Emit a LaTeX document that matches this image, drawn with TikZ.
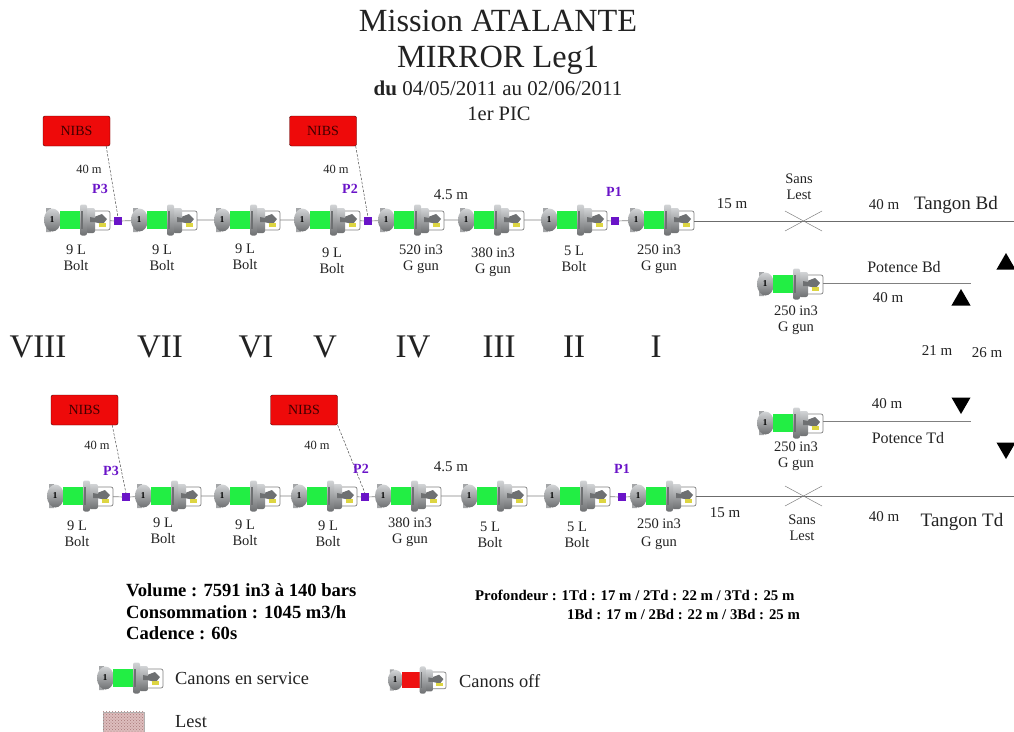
\documentclass[tikz,border=0pt]{standalone}
\usepackage{fontspec}
\setmainfont{Liberation Serif}
\usetikzlibrary{calc,shapes.geometric,patterns}
\definecolor{gungreen}{HTML}{22EE44}
\definecolor{gunred}{HTML}{EE1111}
\definecolor{gungray}{HTML}{A4A6A8}
\definecolor{gunlight}{HTML}{D2D4D6}
\definecolor{gundark}{HTML}{6E7072}
\definecolor{nibsred}{HTML}{EE0A0A}
\definecolor{pviolet}{HTML}{6A14C8}
\definecolor{lestpink}{HTML}{DDBDBD}
\definecolor{lestdots}{HTML}{A87878}
\definecolor{txt}{HTML}{222222}
\newcommand{\fs}[1]{\fontsize{#1}{#1}\selectfont}
\tikzset{
  gunlab/.style={align=center,font=\fs{14.5},text=txt,inner sep=0pt},
  lab/.style={font=\fs{15},text=txt,inner sep=0pt},
  tlab/.style={font=\fs{19},text=txt,inner sep=0pt},
  roman/.style={font=\fs{33},text=txt,inner sep=0pt},
  nibs/.style={draw=black!70!red,fill=nibsred,rounded corners=2pt,minimum width=67pt,minimum height=30pt,inner sep=0pt,font=\fs{14},text=black!75!red},
  pbox/.style={fill=pviolet,minimum size=7.5pt,inner sep=0pt,outer sep=0pt},
  plab/.style={font=\bfseries\fs{14},text=pviolet,inner sep=0pt},
  hose/.style={draw=gray!85!black,line width=0.9pt},
  link/.style={draw=gray,line width=0.7pt},
  lien/.style={draw=gray!60!black,line width=0.5pt,dashed,dash pattern=on 2.5pt off 1.5pt},
  cross/.style={draw=gray,line width=0.5pt},
  tri/.style={fill=black,inner sep=0pt},
  boldtxt/.style={font=\bfseries\fs{18.6},text=black,inner sep=0pt,anchor=west}
}
% [scale] name, x left, y centre, colour
\newcommand{\gun}[5][1]{%
  \node[minimum width={66pt*#1},minimum height={31pt*#1},inner sep=0pt,outer sep=0pt] (#2) at ({#3+33*#1},#4) {};
  \begin{scope}[shift={(#3,#4)},scale=#1]
    \fill[gungray] (2,-12) rectangle (7,-8) (2,12) rectangle (7,8);
    \shade[top color=gunlight,bottom color=gundark] (8.5,0) ellipse [x radius=8.5,y radius=11.5];
    \fill[#5] (16,-9) rectangle (37,9);
    \filldraw[draw=gray,fill=white,line width=0.7pt,rounded corners=2pt] (47,-9) rectangle (66,10);
    \fill[gundark] (50,-3) -- (58,-6) -- (63,-1) -- (59,4) -- (50,2) -- cycle;
    \fill[yellow!70!gray] (55,3) rectangle (62,7);
    \shade[top color=gunlight,bottom color=gundark,rounded corners=2pt] (42,-12) rectangle (51,13);
    \shade[top color=gunlight,bottom color=gundark,rounded corners=2pt] (36,-15.5) rectangle (43,15.5);
    \fill[gundark] (37,-9) rectangle (39,9);
    \fill[gundark] (46,-3) -- (56,-1) -- (56,2) -- (46,2) -- cycle;
    \node[inner sep=0pt,font=\bfseries\fs{9},text=black] at (8,0) {1};
  \end{scope}}
\begin{document}
\begin{tikzpicture}[x=1pt,y=-1pt]
\useasboundingbox (0,0) rectangle (1014,731);
% Title
\node[font=\fs{32.3},text=txt,inner sep=0pt] (t1) at (498,21) {Mission ATALANTE};
\node[font=\fs{32.3},text=txt,inner sep=0pt] (t2) at (498,60) {MIRROR Leg1};
\node[font=\fs{21},text=txt,inner sep=0pt] (t3) at (498,88) {\textbf{du} 04/05/2011 au 02/06/2011};
\node[font=\fs{20.5},text=txt,inner sep=0pt] (t4) at (499,114) {1er PIC};
% Top row
\gun{a8}{44}{220}{gungreen}
\gun{a7}{131}{220}{gungreen}
\gun{a6}{214}{220}{gungreen}
\gun{a5}{294}{220}{gungreen}
\gun{a4}{378}{220}{gungreen}
\gun{a3}{458}{220}{gungreen}
\gun{a2}{541}{220}{gungreen}
\gun{a1}{628}{220}{gungreen}
\node[pbox] (pa3) at (118,221) {};
\node[pbox] (pa2) at (368,221) {};
\node[pbox] (pa1) at (615,221) {};
\coordinate (tb) at (1014,221);
\draw[link] (a8) -- (pa3) (pa3) -- (a7) (a7) -- (a6) (a6) -- (a5) (a5) -- (pa2) (pa2) -- (a4) (a4) -- (a3) (a3) -- (a2) (a2) -- (pa1) (pa1) -- (a1);
\draw[hose] (a1.east |- tb) -- (tb);
\node[nibs] (na3) at (76.5,131) {NIBS};
\node[nibs] (na2) at (323,131) {NIBS};
\draw[lien] ([xshift=-4pt]na3.south east) -- (pa3.north);
\draw[lien] ([xshift=-1pt]na2.south east) -- (pa2.north);
\node[lab,font=\fs{12.5}] (l1) at (89,169) {40 m};
\node[lab,font=\fs{12.5}] (l2) at (336,169) {40 m};
\node[plab] (lp3) at (100,189) {P3};
\node[plab] (lp2) at (350,189) {P2};
\node[plab] (lp1) at (614,192) {P1};
\node[gunlab] (a8t) at (76,258) {9 L\\[1pt]Bolt};
\node[gunlab] (a7t) at (162,258) {9 L\\[1pt]Bolt};
\node[gunlab] (a6t) at (245,257) {9 L\\[1pt]Bolt};
\node[gunlab] (a5t) at (332,261) {9 L\\[1pt]Bolt};
\node[gunlab] (a4t) at (421,259) {520 in3\\[1pt]G gun};
\node[gunlab] (a3t) at (493,262) {380 in3\\[1pt]G gun};
\node[gunlab] (a2t) at (574,259) {5 L\\[1pt]Bolt};
\node[gunlab] (a1t) at (659,259) {250 in3\\[1pt]G gun};
\node[lab] (d1) at (451,195) {4.5 m};
\node[lab] (d2) at (732,204) {15 m};
\node[gunlab] (sl1) at (799,187) {Sans\\[1pt]Lest};
\coordinate (xa) at (785,211); \coordinate (xb) at (822,231);
\coordinate (xc) at (785,231); \coordinate (xd) at (822,211);
\draw[cross] (xa) -- (xb) (xc) -- (xd);
\node[lab] (d3) at (884,205) {40 m};
\node[tlab] (tgb) at (956,205) {Tangon Bd};
% Potence Bd
\gun{pb}{757}{284}{gungreen}
\coordinate (pbe) at (971,283);
\draw[link] (pb.east |- pbe) -- (pbe);
\node[lab,font=\fs{16}] (pbl) at (904,267) {Potence Bd};
\node[lab] (pbm) at (888,298) {40 m};
\node[gunlab] (pbt) at (796,320) {250 in3\\[1pt]G gun};
\node[tri,regular polygon,regular polygon sides=3,minimum size=22pt] (tr1) at (1006,264) {};
\node[tri,regular polygon,regular polygon sides=3,minimum size=22pt] (tr2) at (961,300) {};
% Roman numerals
\node[roman] (r8) at (38,347) {VIII};
\node[roman] (r7) at (160,347) {VII};
\node[roman] (r6) at (256,347) {VI};
\node[roman] (r5) at (325,347) {V};
\node[roman] (r4) at (413,347) {IV};
\node[roman] (r3) at (499,347) {III};
\node[roman] (r2) at (574,347) {II};
\node[roman] (r1) at (656,347) {I};
\node[lab] (d21) at (937,351) {21 m};
\node[lab] (d26) at (987,353) {26 m};
% Potence Td
\gun{pt}{757}{423}{gungreen}
\coordinate (pte) at (971,421);
\draw[link] (pt.east |- pte) -- (pte);
\node[lab] (ptm) at (887,404) {40 m};
\node[lab,font=\fs{16}] (ptl) at (908,438) {Potence Td};
\node[gunlab] (ptt) at (796,456) {250 in3\\[1pt]G gun};
\node[tri,regular polygon,regular polygon sides=3,shape border rotate=180,minimum size=22pt] (tr3) at (961,403) {};
\node[tri,regular polygon,regular polygon sides=3,shape border rotate=180,minimum size=22pt] (tr4) at (1006,448) {};
% Bottom row
\gun{b8}{47}{496}{gungreen}
\gun{b7}{135}{496}{gungreen}
\gun{b6}{214}{496}{gungreen}
\gun{b5}{291}{496}{gungreen}
\gun{b4}{375}{496}{gungreen}
\gun{b3}{461}{496}{gungreen}
\gun{b2}{544}{496}{gungreen}
\gun{b1}{630}{496}{gungreen}
\node[pbox] (pb3) at (126,497) {};
\node[pbox] (pb2) at (365,497) {};
\node[pbox] (pb1) at (622,497) {};
\coordinate (td) at (1014,496);
\draw[link] (b8) -- (pb3) (pb3) -- (b7) (b7) -- (b6) (b6) -- (b5) (b5) -- (pb2) (pb2) -- (b4) (b4) -- (b3) (b3) -- (b2) (b2) -- (pb1) (pb1) -- (b1);
\draw[hose] (b1.east |- td) -- (td);
\node[nibs] (nb3) at (84.5,410) {NIBS};
\node[nibs] (nb2) at (304,410) {NIBS};
\draw[lien] ([xshift=-6pt]nb3.south east) -- (pb3.north);
\draw[lien] (nb2.south east) -- (pb2.north);
\node[lab,font=\fs{12.5}] (l3) at (97,445) {40 m};
\node[lab,font=\fs{12.5}] (l4) at (317,445) {40 m};
\node[plab] (lq3) at (111,471) {P3};
\node[plab] (lq2) at (361,469) {P2};
\node[plab] (lq1) at (622,469) {P1};
\node[gunlab] (b8t) at (77,534) {9 L\\[1pt]Bolt};
\node[gunlab] (b7t) at (163,531) {9 L\\[1pt]Bolt};
\node[gunlab] (b6t) at (245,533) {9 L\\[1pt]Bolt};
\node[gunlab] (b5t) at (328,534) {9 L\\[1pt]Bolt};
\node[gunlab] (b4t) at (410,532) {380 in3\\[1pt]G gun};
\node[gunlab] (b3t) at (490,535) {5 L\\[1pt]Bolt};
\node[gunlab] (b2t) at (577,535) {5 L\\[1pt]Bolt};
\node[gunlab] (b1t) at (659,534) {250 in3\\[3pt]G gun};
\node[lab] (e1) at (451,467) {4.5 m};
\node[lab] (e2) at (725,513) {15 m};
\node[gunlab] (sl2) at (802,528) {Sans\\[1pt]Lest};
\coordinate (ya) at (785,486); \coordinate (yb) at (822,506);
\coordinate (yc) at (785,506); \coordinate (yd) at (822,486);
\draw[cross] (ya) -- (yb) (yc) -- (yd);
\node[lab] (e3) at (884,517) {40 m};
\node[tlab] (tgt) at (962,522) {Tangon Td};
% Text blocks
\node[boldtxt] (v1) at (126,590) {Volume : 7591 in3 à 140 bars};
\node[boldtxt] (v2) at (126,612) {Consommation : 1045 m3/h};
\node[boldtxt] (v3) at (126,633) {Cadence : 60s};
\node[boldtxt,font=\bfseries\fs{14.8}] (pf1) at (475,595) {Profondeur : 1Td : 17 m / 2Td : 22 m / 3Td : 25 m};
\node[boldtxt,font=\bfseries\fs{14.8}] (pf2) at (567,614) {1Bd : 17 m / 2Bd : 22 m / 3Bd : 25 m};
% Legend
\gun{lg1}{97}{678}{gungreen}
\node[tlab,anchor=west,font=\fs{18.4}] (lg1t) at (175,678) {Canons en service};
\gun[0.88]{lg2}{388}{680}{gunred}
\node[tlab,anchor=west,font=\fs{18.4}] (lg2t) at (459,681) {Canons off};
\node[draw=gray!60,fill=lestpink,minimum width=41pt,minimum height=20pt,inner sep=0pt] (lg3) at (123.5,722) {};
\fill[pattern=crosshatch dots,pattern color=lestdots] (lg3.north west) rectangle (lg3.south east);
\node[tlab,anchor=west,font=\fs{18.4}] (lg3t) at (175,722) {Lest};
\end{tikzpicture}
\end{document}
